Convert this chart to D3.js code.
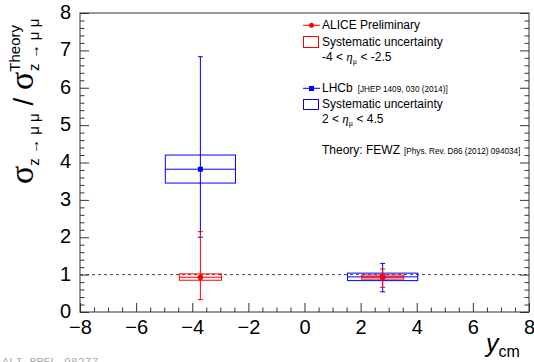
<!DOCTYPE html>
<html>
<head>
<meta charset="utf-8">
<script src="https://cdn.jsdelivr.net/npm/d3@7"></script>
<style>
  body { margin: 0; background: #fff; }
  svg { display: block; font-family: "Liberation Sans", Arial, Helvetica, sans-serif; }
</style>
</head>
<body>
<script>
// rapidity bins (y_cm) and ratios data / theory
var binCenter = [-3.71, 2.785];

var aliceHalfWidth = [0.75, 0.75];
var aliceValue = [0.93, 0.93];
var aliceStatLow = [0.33, 0.66];
var aliceStatHigh = [2.15, 1.15];
var aliceSystLow = [0.85, 0.88];
var aliceSystHigh = [1.02, 0.99];

var lhcbHalfWidth = [1.25, 1.25];
var lhcbValue = [3.82, 0.94];
var lhcbStatLow = [2.0, 0.54];
var lhcbStatHigh = [6.83, 1.30];
var lhcbSystLow = [3.45, 0.84];
var lhcbSystHigh = [4.20, 1.04];

var xMajorTicks = [-8, -6, -4, -2, 0, 2, 4, 6, 8];
var yMajorTicks = [0, 1, 2, 3, 4, 5, 6, 7, 8];
var theoryLevel = 1;

var w = 534, h = 362;
var frameL = 80, frameR = 529, frameT = 13, frameB = 312;
var red = "#ff0000", blue = "#0000ff";

var svg = d3.select("body").append("svg").attr("width", w).attr("height", h);

var x = d3.scaleLinear().domain([-8, 8]).range([frameL, frameR]);
var y = d3.scaleLinear().domain([0, 8]).range([frameB, frameT]);

var xMinor = d3.range(-8, 8.01, 0.5).filter(v => xMajorTicks.indexOf(v) < 0);
var yMinor = d3.range(0, 8.01, 0.2).map(v => Math.round(v * 10) / 10).filter(v => yMajorTicks.indexOf(v) < 0);

// axes
var xAxis = svg.append("g").attr("transform", "translate(0," + frameB + ")")
    .call(d3.axisBottom(x).tickValues(xMajorTicks).tickSize(-9).tickPadding(8));
xAxis.selectAll("text").style("font-size", "20px").attr("fill", "#000");
svg.append("g").attr("transform", "translate(0," + frameB + ")")
    .call(d3.axisBottom(x).tickValues(xMinor).tickSize(-4.5).tickFormat(""));

var yAxis = svg.append("g").attr("transform", "translate(" + frameL + ",0)")
    .call(d3.axisLeft(y).tickValues(yMajorTicks).tickSize(-9).tickPadding(9));
yAxis.selectAll("text").style("font-size", "20px").attr("fill", "#000").attr("dy", "0.27em");
svg.append("g").attr("transform", "translate(" + frameL + ",0)")
    .call(d3.axisLeft(y).tickValues(yMinor).tickSize(-4.5).tickFormat(""));

svg.append("g").attr("transform", "translate(" + frameR + ",0)")
    .call(d3.axisRight(y).tickValues(yMajorTicks).tickSize(-9).tickFormat(""));
svg.append("g").attr("transform", "translate(" + frameR + ",0)")
    .call(d3.axisRight(y).tickValues(yMinor).tickSize(-4.5).tickFormat(""));

svg.selectAll(".domain").remove();
svg.selectAll(".tick line").attr("stroke", "#333");

svg.append("rect")
    .attr("x", frameL).attr("y", frameT)
    .attr("width", frameR - frameL).attr("height", frameB - frameT)
    .attr("fill", "none").attr("stroke", "#333");

// theory line
svg.append("line")
    .attr("x1", frameL).attr("x2", frameR)
    .attr("y1", y(theoryLevel)).attr("y2", y(theoryLevel))
    .attr("stroke", "#444").attr("stroke-dasharray", "3,3");

function drawSeries(color, halfW, val, sLo, sHi, eLo, eHi, marker) {
    var g = svg.append("g");
    binCenter.forEach(function (c, i) {
        var x0 = x(c - halfW[i]), x1 = x(c + halfW[i]);
        g.append("rect")
            .attr("x", x0).attr("y", y(sHi[i]))
            .attr("width", x1 - x0).attr("height", y(sLo[i]) - y(sHi[i]))
            .attr("fill", "none").attr("stroke", color);
        g.append("line")
            .attr("x1", x0).attr("x2", x1)
            .attr("y1", y(val[i])).attr("y2", y(val[i]))
            .attr("stroke", color);
        g.append("line")
            .attr("x1", x(c)).attr("x2", x(c))
            .attr("y1", y(eLo[i])).attr("y2", y(eHi[i]))
            .attr("stroke", color);
        [eLo[i], eHi[i]].forEach(function (v) {
            g.append("line")
                .attr("x1", x(c) - 2.5).attr("x2", x(c) + 2.5)
                .attr("y1", y(v)).attr("y2", y(v))
                .attr("stroke", color);
        });
        if (marker == "circle") {
            g.append("circle").attr("cx", x(c)).attr("cy", y(val[i])).attr("r", 2.8).attr("fill", color);
        } else {
            g.append("rect").attr("x", x(c) - 2.5).attr("y", y(val[i]) - 2.5)
                .attr("width", 5).attr("height", 5).attr("fill", color);
        }
    });
}

drawSeries(blue, lhcbHalfWidth, lhcbValue, lhcbSystLow, lhcbSystHigh, lhcbStatLow, lhcbStatHigh, "square");
drawSeries(red, aliceHalfWidth, aliceValue, aliceSystLow, aliceSystHigh, aliceStatLow, aliceStatHigh, "circle");

// legend
var leg = svg.append("g").style("font-size", "12px");
function legText(tx, ty, txt) {
    return leg.append("text").attr("x", tx).attr("y", ty).text(txt);
}
leg.append("line").attr("x1", 303).attr("x2", 320).attr("y1", 25.3).attr("y2", 25.3).attr("stroke", red);
leg.append("circle").attr("cx", 311.5).attr("cy", 25.3).attr("r", 2.5).attr("fill", red);
legText(322, 29, "ALICE Preliminary");
leg.append("rect").attr("x", 303.5).attr("y", 36.5).attr("width", 15).attr("height", 11)
    .attr("fill", "none").attr("stroke", red);
legText(322, 46, "Systematic uncertainty");
var eta1 = legText(322, 61, "-4 < ");
eta1.append("tspan").style("font-family", "'Liberation Serif', serif").style("font-style", "italic").style("font-size", "13px").text("η");
eta1.append("tspan").attr("dy", 3).style("font-family", "'Liberation Serif', serif").style("font-size", "8px").text("μ");
eta1.append("tspan").attr("dy", -3).text(" < -2.5");

leg.append("line").attr("x1", 303).attr("x2", 320).attr("y1", 88.3).attr("y2", 88.3).attr("stroke", blue);
leg.append("rect").attr("x", 309).attr("y", 86).attr("width", 5).attr("height", 5).attr("fill", blue);
var lh = legText(322, 92, "LHCb");
lh.append("tspan").attr("dx", 5).style("font-size", "8.2px").text("[JHEP 1409, 030 (2014)]");
leg.append("rect").attr("x", 303.5).attr("y", 99.5).attr("width", 15).attr("height", 10)
    .attr("fill", "none").attr("stroke", blue);
legText(322, 108, "Systematic uncertainty");
var eta2 = legText(322, 122.5, "2 < ");
eta2.append("tspan").style("font-family", "'Liberation Serif', serif").style("font-style", "italic").style("font-size", "13px").text("η");
eta2.append("tspan").attr("dy", 3).style("font-family", "'Liberation Serif', serif").style("font-size", "8px").text("μ");
eta2.append("tspan").attr("dy", -3).text(" < 4.5");

var th = legText(322, 154, "Theory: FEWZ");
th.append("tspan").attr("dx", 4).style("font-size", "8.2px").text("[Phys. Rev. D86 (2012) 094034]");

// y axis title
var yt = svg.append("text")
    .attr("transform", "translate(33,184) rotate(-90)")
    .attr("text-anchor", "start");
yt.append("tspan").style("font-family", "'Liberation Serif', serif").style("font-size", "34px").text("σ");
yt.append("tspan").attr("dy", 6).style("font-size", "15px").text("z → μ μ");
yt.append("tspan").attr("dy", -6).style("font-size", "28px").text(" / ");
yt.append("tspan").style("font-family", "'Liberation Serif', serif").style("font-size", "34px").text("σ");
yt.append("tspan").attr("dy", -13).style("font-size", "15px").text("Theory");
yt.append("tspan").attr("dx", -46).attr("dy", 19).style("font-size", "15px").text("z → μ μ");

// x axis title
var xt = svg.append("text").attr("x", 486).attr("y", 352);
xt.append("tspan").style("font-size", "25px").style("font-style", "italic").text("y");
xt.append("tspan").attr("dy", 5).style("font-size", "16px").text("cm");

// watermark
svg.append("text").attr("x", 2).attr("y", 364.5)
    .style("font-family", "'Liberation Mono', 'Courier New', monospace")
    .style("font-size", "11.5px").attr("fill", "#aaa")
    .text("ALI-PREL-98277");
</script>
</body>
</html>
